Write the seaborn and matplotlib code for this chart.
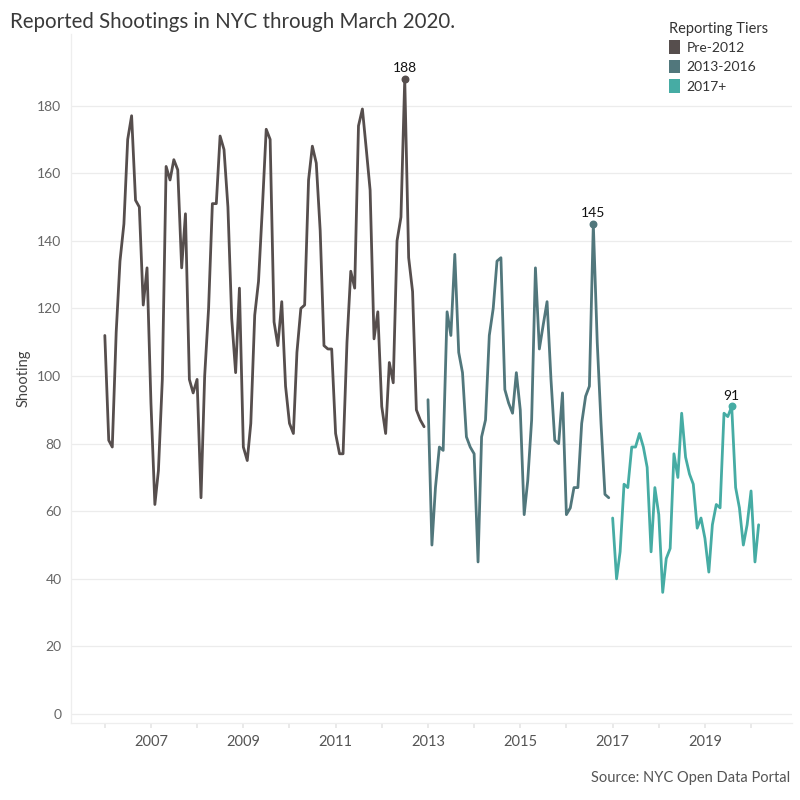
import numpy as np
import pandas as pd
import matplotlib
matplotlib.use("Agg")
import matplotlib.pyplot as plt
from matplotlib.patches import Patch
import seaborn as sns

# ---- data (monthly reported shootings) ----
pre2012 = [112, 81, 79, 113, 134, 145, 170, 177, 152, 150, 121, 132,   # 2006
           92, 62, 72, 99, 162, 158, 164, 161, 132, 148, 99, 95,       # 2007
           99, 64, 100, 120, 151, 151, 171, 167, 150, 117, 101, 126,   # 2008
           79, 75, 86, 118, 128, 150, 173, 170, 116, 109, 122, 97,     # 2009
           86, 83, 107, 120, 121, 158, 168, 163, 143, 109, 108, 108,   # 2010
           83, 77, 77, 110, 131, 126, 174, 179, 167, 155, 111, 119,    # 2011
           91, 83, 104, 98, 140, 147, 188, 135, 125, 90, 87, 85]       # 2012
tier2 = [93, 50, 67, 79, 78, 119, 112, 136, 107, 101, 82, 79,          # 2013
         77, 45, 82, 87, 112, 120, 134, 135, 96, 92, 89, 101,          # 2014
         90, 59, 69, 87, 132, 108, 115, 122, 99, 81, 80, 95,           # 2015
         59, 61, 67, 67, 86, 94, 97, 145, 110, 86, 65, 64]             # 2016
tier3 = [58, 40, 48, 68, 67, 79, 79, 83, 79, 73, 48, 67,               # 2017
         59, 36, 46, 49, 77, 70, 89, 76, 71, 68, 55, 58,               # 2018
         52, 42, 56, 62, 61, 89, 88, 91, 67, 61, 50, 56,               # 2019
         66, 45, 56]                                                   # 2020
tier_names = ["Pre-2012", "2013-2016", "2017+"]
tier_colors = ["#564e4d", "#51777c", "#46aca4"]
peak_labels = ["188", "145", "91"]
year_ticks = list(range(2006, 2021))

values = pre2012 + tier2 + tier3
dates = pd.date_range("2006-01-01", periods=len(values), freq="MS")
tiers = ([tier_names[0]] * len(pre2012) + [tier_names[1]] * len(tier2)
         + [tier_names[2]] * len(tier3))
df = pd.DataFrame({"date": dates, "Shooting": values, "tier": tiers})

sns.set_theme(style="white")
plt.rcParams["font.family"] = ["Lato", "DejaVu Sans"]

fig = plt.figure(figsize=(8, 8), dpi=100)
ax = fig.add_axes([0.089, 0.096, 0.901, 0.862])

sns.lineplot(data=df, x="date", y="Shooting", hue="tier", hue_order=tier_names,
             palette=tier_colors, linewidth=2.0, ax=ax, legend=False)

# peaks
for name, col, lab in zip(tier_names, tier_colors, peak_labels):
    sub = df[df.tier == name]
    r = sub.loc[sub.Shooting.idxmax()]
    ax.scatter([r.date], [r.Shooting], s=22, color=col, zorder=5)
    ax.annotate(lab, (r.date, r.Shooting), xytext=(0, 3.5), textcoords="offset points",
                ha="center", va="bottom", fontsize=10, color="#111111")

ax.set_ylim(-2.7, 201.3)
ax.set_xlim(pd.Timestamp("2005-04-10"), pd.Timestamp("2020-11-20"))
ax.set_yticks(range(0, 181, 20))
ax.yaxis.grid(True, color="#ececec", linewidth=0.9)
ax.xaxis.grid(False)

all_years = [pd.Timestamp(f"{y}-01-01") for y in year_ticks]
ax.set_xticks(all_years)
ax.set_xticklabels([str(y) if y % 2 == 1 else "" for y in year_ticks])

for s in ["top", "right"]:
    ax.spines[s].set_visible(False)
for s in ["left", "bottom"]:
    ax.spines[s].set_color("#eeeeee")
    ax.spines[s].set_linewidth(0.9)
ax.tick_params(axis="x", length=3.6, color="#e6e6e6", labelcolor="#555555",
               labelsize=10.5, pad=5, bottom=True)
ax.tick_params(axis="y", length=0, labelcolor="#666666", labelsize=10, pad=7)
ax.set_xlabel("")
ax.set_ylabel("Shooting", fontsize=10.5, color="#444444", labelpad=5)

fig.text(0.012, 0.972, "Reported Shootings in NYC through March 2020.",
         fontsize=14.8, color="#3a3a3a", ha="left", va="center")
fig.text(0.988, 0.028, "Source: NYC Open Data Portal", fontsize=10.5,
         color="#555555", ha="right", va="center")

handles = [Patch(facecolor=c, edgecolor="none", label=n)
           for n, c in zip(tier_names, tier_colors)]
leg = fig.legend(handles=handles, title="Reporting Tiers", loc="upper left",
                 bbox_to_anchor=(0.828, 0.981), frameon=False, fontsize=10,
                 title_fontsize=10.5, handlelength=0.75, handleheight=1.15,
                 handletextpad=0.5, labelspacing=0.4, borderpad=0)
leg._legend_box.align = "left"
leg._legend_box.sep = 3
for t in leg.get_texts():
    t.set_color("#333333")
leg.get_title().set_color("#333333")

fig.savefig("out.png", dpi=100)
